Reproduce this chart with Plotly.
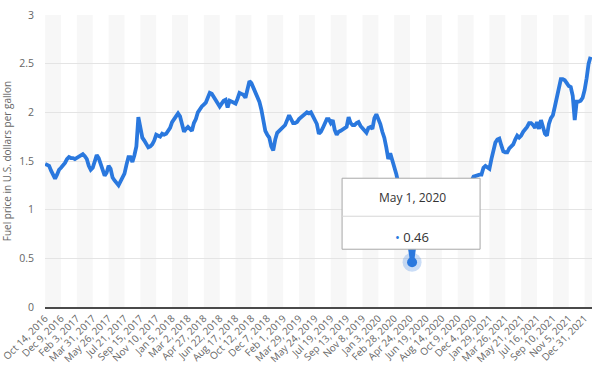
import pandas as pd
import plotly.graph_objects as go

# ---- data ----
START_DATE = "2016-10-14"   # weekly observations (Fridays)
PRICES = [
    1.47, 1.46, 1.45, 1.40, 1.35, 1.32, 1.36, 1.41, 1.43, 1.45,
    1.48, 1.52, 1.54, 1.53, 1.53, 1.52, 1.53, 1.54, 1.56, 1.57,
    1.55, 1.52, 1.45, 1.41, 1.43, 1.49, 1.56, 1.53, 1.46, 1.40,
    1.35, 1.38, 1.45, 1.42, 1.33, 1.30, 1.27, 1.25, 1.29, 1.33,
    1.37, 1.46, 1.54, 1.54, 1.49, 1.56, 1.65, 1.95, 1.83, 1.74,
    1.71, 1.67, 1.64, 1.65, 1.67, 1.71, 1.77, 1.76, 1.75, 1.78,
    1.77, 1.78, 1.81, 1.84, 1.90, 1.93, 1.95, 1.99, 1.96, 1.88,
    1.80, 1.83, 1.85, 1.83, 1.81, 1.89, 1.93, 2.00, 2.04, 2.06,
    2.08, 2.10, 2.15, 2.20, 2.19, 2.16, 2.13, 2.09, 2.06, 2.09,
    2.12, 2.13, 2.05, 2.12, 2.11, 2.10, 2.09, 2.14, 2.20, 2.19,
    2.18, 2.15, 2.23, 2.32, 2.30, 2.25, 2.21, 2.17, 2.11, 2.03,
    1.92, 1.81, 1.77, 1.74, 1.65, 1.61, 1.72, 1.79, 1.81, 1.83,
    1.85, 1.87, 1.92, 1.97, 1.93, 1.89, 1.89, 1.90, 1.93, 1.95,
    1.97, 1.99, 2.00, 1.99, 2.00, 1.96, 1.92, 1.88, 1.78, 1.80,
    1.84, 1.89, 1.93, 1.93, 1.89, 1.92, 1.82, 1.77, 1.80, 1.81,
    1.82, 1.84, 1.85, 1.95, 1.89, 1.87, 1.87, 1.89, 1.90, 1.86,
    1.84, 1.82, 1.79, 1.84, 1.85, 1.83, 1.94, 1.98, 1.94, 1.88,
    1.80, 1.74, 1.64, 1.52, 1.58, 1.52, 1.46, 1.37, 1.28, 1.20,
    1.10, 0.98, 0.85, 0.72, 0.58, 0.46, 0.60, 0.72, 0.80, 0.88,
    0.95, 1.00, 1.05, 1.10, 1.12, 1.14, 1.13, 1.15, 1.16, 1.15,
    1.14, 1.16, 1.17, 1.15, 1.13, 1.10, 1.09, 1.11, 1.12, 1.10,
    1.08, 1.12, 1.17, 1.22, 1.26, 1.30, 1.34, 1.35, 1.36, 1.36,
    1.36, 1.43, 1.45, 1.44, 1.42, 1.52, 1.60, 1.69, 1.72, 1.73,
    1.66, 1.60, 1.59, 1.59, 1.63, 1.65, 1.67, 1.72, 1.76, 1.74,
    1.76, 1.80, 1.82, 1.85, 1.89, 1.89, 1.87, 1.84, 1.90, 1.83,
    1.92, 1.84, 1.78, 1.76, 1.88, 1.94, 1.97, 2.06, 2.16, 2.28,
    2.34, 2.34, 2.33, 2.30, 2.27, 2.26, 2.17, 1.92, 2.11, 2.11,
    2.12, 2.15, 2.23, 2.35, 2.50, 2.57,
]
TICK_LABELS = [
    "Oct 14, 2016", "Dec 9, 2016", "Feb 3, 2017", "Mar 31, 2017", "May 26, 2017",
    "Jul 21, 2017", "Sep 15, 2017", "Nov 10, 2017", "Jan 5, 2018", "Mar 2, 2018",
    "Apr 27, 2018", "Jun 22, 2018", "Aug 17, 2018", "Oct 12, 2018", "Dec 7, 2018",
    "Feb 1, 2019", "Mar 29, 2019", "May 24, 2019", "Jul 19, 2019", "Sep 13, 2019",
    "Nov 8, 2019", "Jan 3, 2020", "Feb 28, 2020", "Apr 24, 2020", "Jun 19, 2020",
    "Aug 14, 2020", "Oct 9, 2020", "Dec 4, 2020", "Jan 29, 2021", "Mar 26, 2021",
    "May 21, 2021", "Jul 16, 2021", "Sep 10, 2021", "Nov 5, 2021", "Dec 31, 2021",
]
Y_TICKS = [0, 0.5, 1, 1.5, 2, 2.5, 3]
HIGHLIGHT_LABEL = "May 1, 2020"
Y_TITLE = "Fuel price in U.S. dollars per gallon"

# ---- derived ----
dates = pd.date_range(START_DATE, periods=len(PRICES), freq="7D")
tick_dates = [pd.to_datetime(t, format="%b %d, %Y") for t in TICK_LABELS]
hl_date = pd.to_datetime(HIGHLIGHT_LABEL, format="%b %d, %Y")
hl_value = PRICES[list(dates).index(hl_date)]

BLUE = "#2a78de"
x_start = dates[0] - pd.Timedelta(hours=12)
x_end = dates[-1] + pd.Timedelta(days=5)

def iso(d):
    return d.strftime("%Y-%m-%d %H:%M:%S")

fig = go.Figure()
fig.add_trace(go.Scatter(
    x=[iso(d) for d in dates], y=PRICES, mode="lines",
    line=dict(color=BLUE, width=3.8, shape="linear"),
    hoverinfo="skip", showlegend=False,
))
# highlighted point (halo + marker)
fig.add_trace(go.Scatter(
    x=[iso(hl_date)], y=[hl_value], mode="markers",
    marker=dict(size=19, color="rgba(42,120,222,0.25)"),
    hoverinfo="skip", showlegend=False,
))
fig.add_trace(go.Scatter(
    x=[iso(hl_date)], y=[hl_value], mode="markers",
    marker=dict(size=10, color=BLUE),
    hoverinfo="skip", showlegend=False,
))

shapes = []
# alternating vertical bands between ticks
step = tick_dates[1] - tick_dates[0]
for k in range(0, len(tick_dates), 2):
    x0 = max(tick_dates[k], x_start)
    x1 = tick_dates[k + 1] if k + 1 < len(tick_dates) else tick_dates[k] + step
    x1 = min(x1, x_end)
    shapes.append(dict(type="rect", xref="x", yref="paper", x0=iso(x0), x1=iso(x1), y0=0, y1=1,
                       fillcolor="#f7f7f7", line=dict(width=0), layer="below"))
# tooltip box
shapes.append(dict(type="rect", xref="x", yref="y", xsizemode="pixel", ysizemode="pixel",
                   xanchor=iso(hl_date), yanchor=hl_value, x0=-70, x1=68, y0=13, y1=84,
                   fillcolor="white", line=dict(color="#a8a8a8", width=1), layer="above"))
shapes.append(dict(type="line", xref="x", yref="y", xsizemode="pixel", ysizemode="pixel",
                   xanchor=iso(hl_date), yanchor=hl_value, x0=-70, x1=68, y0=46, y1=46,
                   line=dict(color="#d6d6d6", width=1), layer="above"))

annotations = [
    dict(x=iso(hl_date), y=hl_value, xref="x", yref="y", yshift=65, showarrow=False,
         text=HIGHLIGHT_LABEL, font=dict(family="Open Sans", size=12, color="#333333")),
    dict(x=iso(hl_date), y=hl_value, xref="x", yref="y", yshift=25, showarrow=False,
         text=f"<span style='color:{BLUE}'>•</span> {hl_value:.2f}",
         font=dict(family="Open Sans", size=13, color="#333333")),
]

fig.update_layout(
    width=602, height=383,
    margin=dict(l=45, r=10, t=15, b=76, autoexpand=False),
    paper_bgcolor="white", plot_bgcolor="white",
    font=dict(family="Open Sans", color="#666666", size=10),
    shapes=shapes, annotations=annotations,
    hovermode=False,
)
fig.update_xaxes(
    type="date", range=[iso(x_start), iso(x_end)], automargin=False,
    tickmode="array", tickvals=[iso(d) for d in tick_dates], ticktext=TICK_LABELS,
    tickangle=-45, tickfont=dict(size=10, color="#666666"),
    ticklabeloverflow="allow",
    showgrid=False, zeroline=False,
    showline=True, linecolor="#4a4a4a", linewidth=1.5,
    ticks="",
)
fig.update_yaxes(
    range=[0, 3], automargin=False, tickmode="array", tickvals=Y_TICKS,
    ticktext=[f"{v:g}" for v in Y_TICKS],
    tickfont=dict(size=10.5, color="#666666"),
    showgrid=True, gridcolor="#e4e4e4", gridwidth=1,
    zeroline=False, showline=False, ticks="",
    ticklabelstandoff=10,
    title=dict(text=Y_TITLE, font=dict(size=10, color="#666666"), standoff=6),
)

fig.write_html(
    "out.html",
    config={"displayModeBar": False},
    post_script="document.body.style.margin='0px';document.body.style.padding='0px';",
)
